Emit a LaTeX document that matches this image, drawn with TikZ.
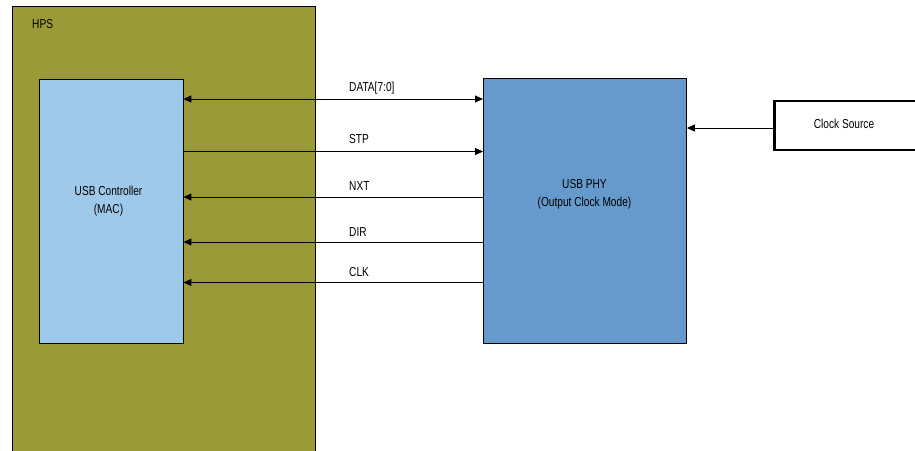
\documentclass[tikz,border=0pt]{standalone}
\usepackage{fontspec}
\setmainfont{Liberation Sans}[FakeStretch=0.78]
\usetikzlibrary{arrows.meta}
\definecolor{olive}{HTML}{9A9A38}
\definecolor{lightblue}{HTML}{9FC9EA}
\definecolor{phyblue}{HTML}{6699CC}
\begin{document}
\begin{tikzpicture}[x=1pt,y=-1pt,
  every node/.style={font=\fontsize{13}{15}\selectfont, inner sep=0pt},
  blk/.style={draw=black, line width=0.9pt},
  sig/.style={line width=0.9pt, -{Triangle[length=8pt,width=7pt]}},
  sigboth/.style={line width=0.9pt, {Triangle[length=8pt,width=7pt]}-{Triangle[length=8pt,width=7pt]}},
  lbl/.style={anchor=west}]
\useasboundingbox (0,0) rectangle (915,450);
% HPS
\path[blk, fill=olive] (12.5,6) rectangle (315.5,470);
\node[anchor=west] (hps) at (32,24) {HPS};
% boxes
\node[blk, fill=lightblue, minimum width=144pt, minimum height=264.5pt, anchor=north west] (ctrl) at (38.5,78.5) {};
\node[align=center] (ctrltxt) at (108.5,201) {USB Controller\\[3pt](MAC)};
\node[blk, fill=phyblue, minimum width=203pt, minimum height=265pt, anchor=north west] (phy) at (483,78) {};
\node[align=center] (phytxt) at (584.5,194) {USB PHY\\[3pt](Output Clock Mode)};
\node[draw=black, line width=2.6pt, fill=white, minimum width=160pt, minimum height=49pt, anchor=north west] (clk) at (773,99.5) {};
\node (clktxt) at (844,124) {Clock Source};
% signals
\draw[sigboth] (ctrl.east |- 0,99) -- (phy.west |- 0,99);
\node[lbl] (l1) at (349,88) {DATA[7:0]};
\draw[sig] (ctrl.east |- 0,151.5) -- (phy.west |- 0,151.5);
\node[lbl] (l2) at (349,139) {STP};
\draw[sig] (phy.west |- 0,197) -- (ctrl.east |- 0,197);
\node[lbl] (l3) at (349,186) {NXT};
\draw[sig] (phy.west |- 0,242) -- (ctrl.east |- 0,242);
\node[lbl] (l4) at (349,232) {DIR};
\draw[sig] (phy.west |- 0,282.5) -- (ctrl.east |- 0,282.5);
\node[lbl] (l5) at (349,272) {CLK};
\draw[sig] (clk.west |- 0,128) -- (phy.east |- 0,128);
\end{tikzpicture}
\end{document}
